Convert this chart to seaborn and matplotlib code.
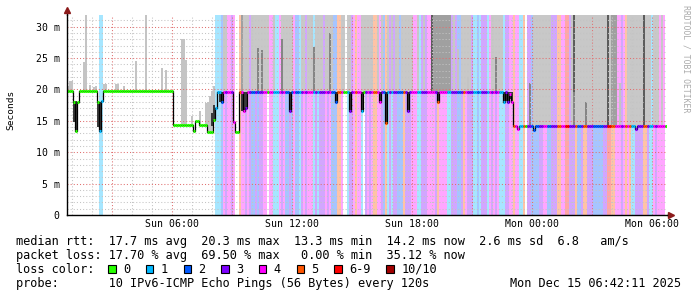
import numpy as np
import pandas as pd
import matplotlib
matplotlib.use("Agg")
import matplotlib.pyplot as plt
from matplotlib.patches import Rectangle
from matplotlib.colors import to_rgb
import seaborn as sns

# ------------------------------------------------------------------ data
STEP_H = 0.1          # one sample = 6 minutes, time axis in hours from graph start
X_END = 30.0
Y_TOP = 31.86

x_tick_hours = [2.25, 5.25, 8.25, 11.25, 14.25, 17.25, 20.25, 23.25, 26.25, 29.25]
x_tick_labels = ["", "Sun 06:00", "", "Sun 12:00", "", "Sun 18:00", "", "Mon 00:00", "", "Mon 06:00"]
y_tick_values = [0, 5, 10, 15, 20, 25, 30]
y_tick_labels = ["0", "5 m", "10 m", "15 m", "20 m", "25 m", "30 m"]

loss_labels = ["0", "1", "2", "3", "4", "5", "6-9", "10/10"]
loss_colors = ["#26ff00", "#00b8ff", "#0059ff", "#7e00ff", "#ff00ff", "#ff5500", "#ff0000", "#a10000"]

# median rtt in ms as (number of samples, value)
median_runs = [
    (3, 19.7), (1, 18.0), (1, 13.4), (1, 18.0), (9, 19.7),
    (1, 18.0), (1, 13.4), (1, 18.2), (35, 19.7),
    (10, 14.3), (1, 13.4), (2, 14.9), (4, 14.3), (3, 13.3), (1, 15.2), (1, 17.0),
    (2, 19.6), (1, 18.0), (5, 19.6), (1, 14.8), (2, 13.2), (2, 19.6), (1, 16.5), (1, 17.0),
    (21, 19.6), (1, 16.5), (22, 19.6), (1, 18.0), (6, 19.6), (1, 16.5), (5, 19.6),
    (1, 16.5), (8, 19.6), (1, 18.0), (2, 19.6), (1, 14.7), (10, 19.6), (1, 16.5),
    (14, 19.6), (1, 18.0), (32, 19.6), (1, 18.0), (1, 19.6), (1, 18.0), (1, 19.3), (1, 18.0),
    (2, 14.2), (1, 13.7), (7, 14.2), (1, 13.5), (50, 14.2), (1, 13.7), (15, 14.2),
]

# loss per sample: '0'..'5', '6' = 6-9, 'T' = 10/10
loss_codes = "".join([
    "0" * 16, "11", "0" * 56,
    "111", "2", "4344", "34", "00", "5", "443", "432", "232", "334", "40", "441", "114",
    "3422", "324", "221", "3434", "44", "131", "333", "434", "222", "55", "4", "001",
    "33", "4544", "10", "3434", "55", "443", "2", "5", "131", "332", "22", "53", "334",
    "44", "113", "33", "444", "43", "544", "441", "13", "332", "23", "543", "33", "1121",
    "333", "1", "43", "434", "111", "33", "44", "544", "11", "5", "0", "33", "2222", "33",
    "44", "223", "33", "554", "4", "663", "33", "5", "223", "55", "333", "22222", "33",
    "665", "5", "444", "34", "545", "11", "3333", "55", "3", "11", "434", "44", "40",
])

# smoke columns reaching the top: '.' none, 'l' light, 'd' dark, 'k' darkest
smoke_codes = "".join([
    "." * 74,
    "....", "ll", ".......", "d", "lll.llll", "lllll", "..l...", "llllll", "....",
    "ll.lll.l", "lll.llll", "....", "ll.ll", ".....", "llllll", "..l.l..", "l.l.ll.",
    "llllll", "..l..l...", "k", "ddddddddd", ".l...", "lllll", "..........", "llllll",
    "............", "...", "lllllllll", "..........", "lkllll", "lllllll", "lllllkl",
    "ddd", ".....", "lllllll", "lklll.", "lll.l..",
])

# single light smoke spikes: sample index, top (ms)
spike_idx = [0, 1, 2, 8, 9, 11, 13, 14, 18, 19, 24, 25, 28, 34, 39, 47, 49, 57, 58, 59,
             62, 66, 69, 70, 71, 72, 73, 195, 200, 276]
spike_top = [20.5, 21.4, 21.4, 24.3, 31.9, 20.7, 20.4, 20.6, 20.9, 20.9, 20.8, 20.8, 20.5,
             24.5, 31.9, 23.4, 23.1, 28.0, 28.0, 24.7, 15.7, 16.5, 17.8, 18.0, 19.0, 19.8,
             20.5, 26.5, 22.0, 21.0]

# darker partial smoke: sample index, top (ms)
dspike_idx = [95, 97, 107, 123, 131, 214, 231, 253, 259]
dspike_top = [26.6, 26.3, 28.0, 26.8, 29.0, 25.2, 21.0, 19.6, 18.0]

# dark smoke blocks around the median: sample index, low, high (ms)
dark_idx = [3, 4, 15, 16, 72, 73, 76, 77, 87, 88, 89, 111, 134, 141, 147, 156, 159, 170,
            185, 218, 219, 220, 221, 222]
dark_lo = [14.8, 13.4, 14.0, 13.5, 14.1, 15.2, 18.0, 18.0, 16.5, 16.5, 16.8, 16.5, 18.0,
           16.5, 16.5, 18.0, 14.7, 16.5, 18.0, 18.0, 18.2, 18.0, 18.4, 18.0]
dark_hi = [18.1, 18.1, 18.0, 18.0, 16.2, 17.5, 19.6, 19.6, 19.6, 19.6, 19.6, 19.6, 19.6,
           19.6, 19.6, 19.6, 19.6, 19.6, 19.6, 19.6, 19.6, 19.6, 19.6, 19.6]

legend_line1 = "median rtt:  17.7 ms avg  20.3 ms max  13.3 ms min  14.2 ms now  2.6 ms sd  6.8   am/s"
legend_line2 = "packet loss: 17.70 % avg  69.50 % max   0.00 % min  35.12 % now"
legend_line3 = "loss color:"
legend_line4 = "probe:       10 IPv6-ICMP Echo Pings (56 Bytes) every 120s"
date_text = "Mon Dec 15 06:42:11 2025"
watermark = "RRDTOOL / TOBI OETIKER"

# ------------------------------------------------------------------ setup
sns.set_style("white")
plt.rcParams["font.family"] = ["DejaVu Sans Mono", "DejaVu Sans"]

W, H = 697, 297
fig = plt.figure(figsize=(W / 100, H / 100), dpi=100)
L, R, T, B = 67, 667, 15, 215
ax = fig.add_axes([L / W, 1 - B / H, (R - L) / W, (B - T) / H])

code_map = {"0": 0, "1": 1, "2": 2, "3": 3, "4": 4, "5": 5, "6": 6, "T": 7}
loss = np.array([code_map[c] for c in loss_codes])
n = len(loss)
t = np.arange(n) * STEP_H
median = np.concatenate([np.full(c, v) for c, v in median_runs])[:n]


def pale(c, a=0.35):
    r = np.array(to_rgb(c))
    return tuple(1 - (1 - r) * a)


# loss background bands
i = 0
while i < n:
    j = i
    while j + 1 < n and loss[j + 1] == loss[i]:
        j += 1
    if loss[i] > 0:
        ax.bar(t[i], 40, width=(j - i + 1) * STEP_H, bottom=0, align="edge",
               color=pale(loss_colors[loss[i]]), linewidth=0, antialiased=False, zorder=1)
    i = j + 1

# smoke
shade = {"l": "#c8c8c8", "d": "#a0a0a0", "k": "#5c5c5c"}
for k, c in enumerate(smoke_codes[:n]):
    if c in shade:
        ax.bar(t[k], 40 - median[k], width=STEP_H, bottom=median[k], align="edge",
               color=shade[c], linewidth=0, antialiased=False, zorder=1.5)
for k, top in zip(spike_idx, spike_top):
    ax.bar(t[k], top - median[k], width=STEP_H, bottom=median[k], align="edge",
           color="#c4c4c4", linewidth=0, antialiased=False, zorder=1.6)
for k, top in zip(dspike_idx, dspike_top):
    ax.bar(t[k], top - median[k], width=STEP_H, bottom=median[k], align="edge",
           color="#858585", linewidth=0, antialiased=False, zorder=1.7)
for k, lo, hi in zip(dark_idx, dark_lo, dark_hi):
    ax.bar(t[k], hi - lo, width=STEP_H, bottom=lo, align="edge",
           color="#3a3a3a", linewidth=0, antialiased=False, zorder=3)

# median line (black steps) + loss coloured segments
df_med = pd.DataFrame({"hours": np.append(t, t[-1] + STEP_H),
                       "rtt": np.append(median, median[-1])})
sns.lineplot(data=df_med, x="hours", y="rtt", ax=ax, color="black", lw=0.9,
             drawstyle="steps-post", estimator=None, zorder=4)
ax.hlines(median, t, t + STEP_H, colors=[loss_colors[v] for v in loss], lw=2.2, zorder=5)

# axes, grid
ax.set_xlim(0, X_END)
ax.set_ylim(0, Y_TOP)
ax.set_xlabel("")
ax.set_ylabel("")
ax.set_xticks(x_tick_hours, x_tick_labels)
ax.set_xticks(np.arange(0.25, X_END, 1.0), minor=True)
ax.set_yticks(y_tick_values, y_tick_labels)
ax.set_yticks(np.arange(0, 32, 1.0), minor=True)
ax.set_axisbelow(False)
ax.grid(which="minor", color="#c4c4c4", linestyle=(0, (1, 2)), linewidth=0.75)
ax.grid(which="major", color="#e07070", linestyle=(0, (1, 2)), linewidth=0.75)
ax.tick_params(which="both", length=0, labelsize=7.1, labelcolor="black")
ax.tick_params(axis="y", pad=5.2)
ax.tick_params(axis="x", pad=3.2)
for s in ["top", "right"]:
    ax.spines[s].set_visible(False)
for s in ["left", "bottom"]:
    ax.spines[s].set_color("black")
    ax.spines[s].set_linewidth(1.0)
    ax.spines[s].set_zorder(6)

# axis extensions with arrows
ax.plot([0, 0], [1.0, 1.02], transform=ax.transAxes, color="black", lw=1.0, clip_on=False)
ax.plot([1.0, 1.006], [0, 0], transform=ax.transAxes, color="black", lw=1.0, clip_on=False)
ax.plot([0], [1.025], transform=ax.transAxes, marker="^", ms=4, color="#8b1a1a",
        mec="#8b1a1a", clip_on=False)
ax.plot([1.006], [0], transform=ax.transAxes, marker=">", ms=4, color="#8b1a1a",
        mec="#8b1a1a", clip_on=False)

# texts
fig.text(11 / W, 1 - 110 / H, "Seconds", rotation=90, ha="center", va="center",
         fontsize=6.8, color="black")
fig.text(686 / W, 1 - 5 / H, watermark, rotation=270, ha="center", va="top",
         fontsize=5.9, color="#aaaaaa")

LEG_FS = 8.55
CW = 7.15
for y, txt in [(241.7, legend_line1), (255.7, legend_line2), (269.3, legend_line3),
               (283.3, legend_line4)]:
    fig.text(16 / W, 1 - y / H, txt, ha="left", va="center", fontsize=LEG_FS, color="black")
fig.text(681 / W, 1 - 283.3 / H, date_text, ha="right", va="center", fontsize=LEG_FS,
         color="black")

sq_x = 108.3
for lab, col in zip(loss_labels, loss_colors):
    fig.add_artist(Rectangle((sq_x / W, 1 - 273.3 / H), 7.5 / W, 8.3 / H,
                             transform=fig.transFigure, facecolor=col,
                             edgecolor="black", linewidth=0.8))
    lx = sq_x + 15
    fig.text(lx / W, 1 - 269.3 / H, lab, ha="left", va="center", fontsize=LEG_FS,
             color="black")
    sq_x = lx + len(lab) * CW + 15.5

fig.savefig("out.png", dpi=100)
